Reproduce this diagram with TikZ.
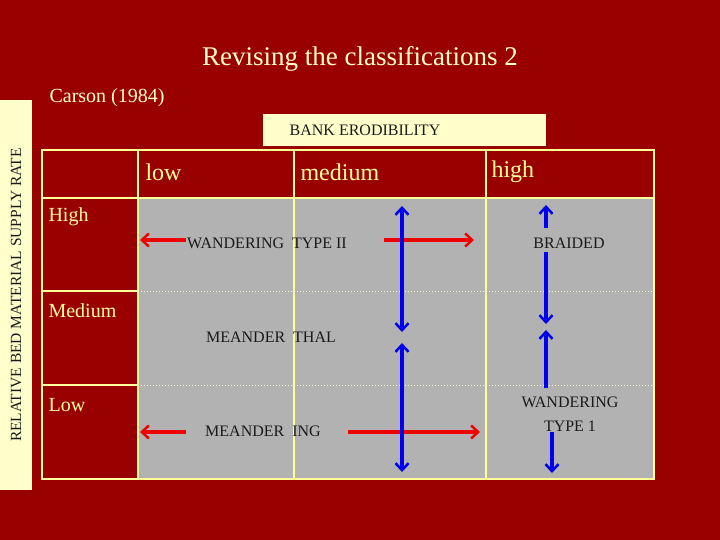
\documentclass[tikz,border=0pt]{standalone}
\usepackage{fontspec}
\setmainfont{Liberation Serif}
\usetikzlibrary{arrows.meta}
\definecolor{bgred}{HTML}{990000}
\definecolor{lyel}{HTML}{FFFFCC}
\definecolor{tyel}{HTML}{FFFF99}
\definecolor{cellg}{HTML}{B2B2B2}
\definecolor{txt}{HTML}{1A1A1A}
\begin{document}
\begin{tikzpicture}[x=1pt,y=-1pt,
  hdr/.style={text=tyel,font=\fontsize{24}{26}\selectfont,anchor=west},
  rowl/.style={text=tyel,font=\fontsize{20}{22}\selectfont,anchor=west},
  cell/.style={text=txt,font=\fontsize{16}{18}\selectfont,align=center},
  red/.style={draw={rgb,255:red,240;green,0;blue,0},line width=3.5pt,-{Straight Barb[length=7pt,width=13pt,line width=2.5pt]}},
  blu/.style={draw={rgb,255:red,0;green,0;blue,240},line width=3.5pt,-{Straight Barb[length=7pt,width=13pt,line width=2.5pt]}},
  blud/.style={blu,{Straight Barb[length=7pt,width=13pt,line width=2.5pt]}-{Straight Barb[length=7pt,width=13pt,line width=2.5pt]}}]
\fill[bgred] (0,0) rectangle (720,540);
\useasboundingbox (0,0) rectangle (720,540);
% side strip
\fill[lyel] (0,100) rectangle (32,490);
\node[rotate=90,text=txt,font=\fontsize{15.5}{17}\selectfont] (side) at (16,295) {RELATIVE BED MATERIAL SUPPLY RATE};
\node[text=lyel,font=\fontsize{27}{30}\selectfont] (title) at (360,59) {Revising the classifications 2};
\node[text=lyel,font=\fontsize{20}{22}\selectfont,anchor=west] (carson) at (46,98) {Carson (1984)};
\fill[lyel] (263,114) rectangle (546,146);
\node[text=txt,font=\fontsize{16}{18}\selectfont] (bank) at (365,130) {BANK ERODIBILITY};
% table
\fill[cellg] (138,198) rectangle (654,479);
\draw[tyel,line width=2pt] (42,150) rectangle (654,479);
\draw[tyel,line width=1.5pt] (42,198) -- (654,198) (138,150) -- (138,479) (294,150) -- (294,479) (486,150) -- (486,479)
  (42,291) -- (138,291) (42,385) -- (138,385);
\draw[lyel,line width=1pt,dotted] (138,291) -- (654,291) (138,385) -- (654,385);
\node[hdr] (hlow) at (142,172) {low};
\node[hdr] (hmed) at (297,172) {medium};
\node[hdr] (hhigh) at (488,172) {high};
\node[rowl] (rhigh) at (45,217) {High};
\node[rowl] (rmed) at (45,311) {Medium};
\node[rowl] (rlow) at (45,405) {Low};
\node[cell] (wt2) at (267,243) {WANDERING~~TYPE II};
\node[cell] (mt) at (271,337) {MEANDER~~THAL};
\node[cell] (mi) at (263,431) {MEANDER~~ING};
\node[cell] (br) at (569,243) {BRAIDED};
\node[cell,font=\fontsize{16}{24}\selectfont] (wt1) at (570,414) {WANDERING\\TYPE 1};
% arrows
\coordinate (a1) at (140,240); \draw[red] (wt2.west) ++(2,-3) coordinate (a0) -- (a1);
\coordinate (b0) at (384,240); \coordinate (b1) at (474,240); \draw[red] (b0) -- (b1);
\coordinate (c0) at (186,432); \coordinate (c1) at (140,432); \draw[red] (c0) -- (c1);
\coordinate (d0) at (348,432); \coordinate (d1) at (480,432); \draw[red] (d0) -- (d1);
\coordinate (e0) at (402,206); \coordinate (e1) at (402,332); \draw[blud] (e0) -- (e1);
\coordinate (f0) at (402,343); \coordinate (f1) at (402,472); \draw[blud] (f0) -- (f1);
\coordinate (g0) at (546,228); \coordinate (g1) at (546,205); \draw[blu] (g0) -- (g1);
\coordinate (h0) at (546,252); \coordinate (h1) at (546,324); \draw[blu] (h0) -- (h1);
\coordinate (i0) at (546,388); \coordinate (i1) at (546,330); \draw[blu] (i0) -- (i1);
\coordinate (j0) at (552,432); \coordinate (j1) at (552,473); \draw[blu] (j0) -- (j1);
\end{tikzpicture}
\end{document}
